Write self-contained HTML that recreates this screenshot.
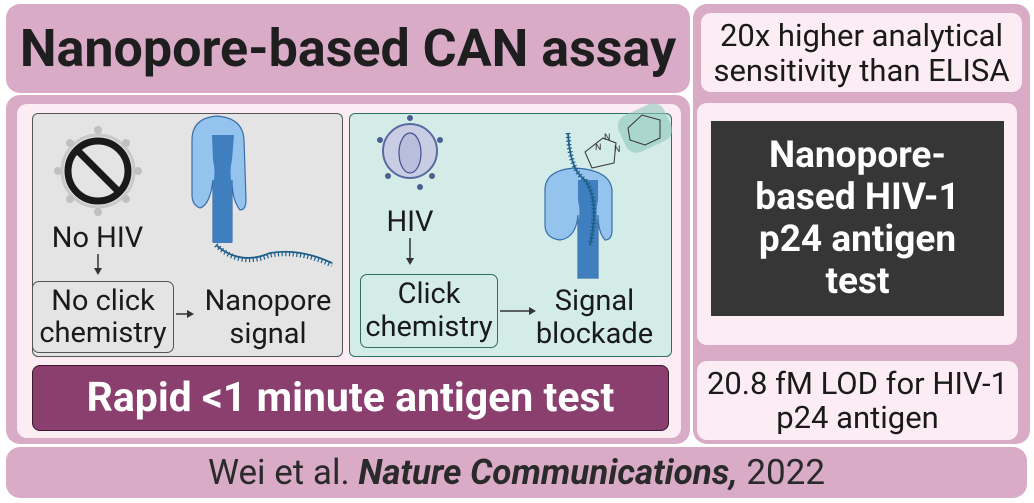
<!DOCTYPE html>
<html><head><meta charset="utf-8"><style>
body{margin:0;width:1034px;height:503px;background:#fff;position:relative;overflow:hidden;font-family:"Roboto","Liberation Sans",sans-serif;}
div{position:absolute;box-sizing:border-box;}
.pk{background:#d9abc7;border-radius:14px;}
.pl{background:#fcedf4;border-radius:10px;}
.c{display:flex;align-items:center;justify-content:center;text-align:center;}
.t{color:#1a1a1a;font-size:29px;line-height:32px;white-space:nowrap;}
</style></head><body>
<div class="pk" style="left:6px;top:4px;width:684px;height:89px;"></div>
<div class="c" style="left:6px;top:4px;width:684px;height:89px;font-weight:bold;font-size:52px;color:#1e1e1e;white-space:nowrap;">Nanopore-based CAN assay</div>
<div class="pk" style="left:693px;top:4px;width:337px;height:440px;"></div>
<div class="pl c t" style="left:701px;top:13px;width:321px;height:79px;font-size:31px;line-height:35px;">20x higher analytical<br>sensitivity than ELISA</div>
<div class="pl" style="left:697px;top:103px;width:320px;height:242px;"></div>
<div class="c" style="left:711px;top:121px;width:293px;height:195px;background:#363636;color:#fff;font-weight:bold;font-size:37px;line-height:42px;">Nanopore-<br>based HIV-1<br>p24 antigen<br>test</div>
<div class="pl c t" style="left:697px;top:361px;width:321px;height:79px;font-size:31px;line-height:34px;">20.8 fM LOD for HIV-1<br>p24 antigen</div>
<div class="pk" style="left:6px;top:95px;width:684px;height:349px;"></div>
<div class="pl" style="left:17px;top:104px;width:664px;height:334px;"></div>
<div style="left:32px;top:113px;width:311px;height:244px;background:#e4e4e4;border:1.5px solid #555;border-radius:6px;"></div>
<div style="left:349px;top:113px;width:323px;height:244px;background:#d4ece8;border:1.5px solid #2f6e62;border-radius:6px;"></div>
<svg style="position:absolute;left:0;top:0" width="1034" height="503">
 <g fill="none" stroke="#c9c9c9" stroke-width="3"><circle cx="98" cy="171" r="36"/></g>
 <g fill="#c0c0c0"><circle cx="98" cy="130" r="4"/><circle cx="98" cy="212" r="4"/><circle cx="58" cy="171" r="4"/><circle cx="138" cy="171" r="4"/><circle cx="70" cy="143" r="4"/><circle cx="126" cy="199" r="4"/><circle cx="126" cy="143" r="4"/><circle cx="70" cy="199" r="4"/></g>
 <circle cx="98" cy="171" r="30" fill="none" stroke="#1a1a1a" stroke-width="7"/>
 <line x1="77" y1="150" x2="119" y2="192" stroke="#1a1a1a" stroke-width="7"/>
 <path d="M192,140 Q192,118 217,116 Q243,118 244,140 L246,200 Q246,210 240,210 Q232,200 232,180 L232,242 L213,242 L213,180 Q210,205 200,208 Q192,205 192,195 Z" fill="#94c4ee" stroke="#3a6ea8" stroke-width="1.2"/>
 <path d="M212,135 L234,135 L232,160 Q229,172 232,185 L232,243 L213,243 L213,185 Q216,172 213,160 Z" fill="#3f7fc0"/>
 <path d="M216,245 Q240,268 270,255 Q300,250 332,265" fill="none" stroke="#1f5f8a" stroke-width="5" stroke-dasharray="1.2 2.5"/>
 <path d="M216,245 Q240,266 270,253 Q300,248 332,263" fill="none" stroke="#1f5f8a" stroke-width="1.8"/>
 <line x1="98" y1="254" x2="98" y2="270" stroke="#333" stroke-width="1.5"/><path d="M94,268 L102,268 L98,275Z" fill="#333"/>
 <line x1="176" y1="314" x2="188" y2="314" stroke="#333" stroke-width="1.5"/><path d="M187,310 L194,314 L187,318Z" fill="#333"/>
 <circle cx="410" cy="151" r="27" fill="#c9cde4" stroke="#5a6aa0" stroke-width="2"/>
 <ellipse cx="410" cy="153" rx="11" ry="20" fill="#b8bedc" stroke="#44508a" stroke-width="1.2"/>
 <g fill="#4a5e92"><circle cx="410" cy="118" r="3"/><circle cx="380" cy="140" r="3"/><circle cx="440" cy="140" r="3"/><circle cx="388" cy="176" r="3"/><circle cx="432" cy="176" r="3"/><circle cx="420" cy="187" r="3"/></g>
 <line x1="410" y1="238" x2="410" y2="260" stroke="#333" stroke-width="1.5"/><path d="M406,258 L414,258 L410,265Z" fill="#333"/>
 <line x1="500" y1="311" x2="530" y2="311" stroke="#333" stroke-width="1.5"/><path d="M529,307 L536,311 L529,315Z" fill="#333"/>
 <path d="M545,190 Q545,170 575,168 Q610,170 612,190 L612,230 Q612,240 605,240 Q598,232 598,215 L598,278 L578,278 L578,215 Q576,238 560,240 Q545,238 545,225 Z" fill="#94c4ee" stroke="#3a6ea8" stroke-width="1.2"/>
 <path d="M578,180 L598,180 L598,200 Q595,212 598,225 L598,278 L578,278 L578,225 Q581,212 578,200 Z" fill="#3f7fc0"/>
 <path d="M568,133 Q570,170 585,180 Q600,200 590,245" fill="none" stroke="#1f5f8a" stroke-width="5" stroke-dasharray="1.2 2.5"/>
 <path d="M568,133 Q570,170 585,180 Q600,200 590,245" fill="none" stroke="#1f5f8a" stroke-width="1.8"/>
 <path d="M585,152 L603,138 L616,143 L614,163 L592,168Z" fill="none" stroke="#333" stroke-width="1"/>
 <text x="595" y="150" font-size="9" fill="#333">N</text><text x="604" y="140" font-size="9" fill="#333">N</text><text x="614" y="152" font-size="9" fill="#333">N</text>
 <rect x="620" y="108" width="50" height="40" rx="12" fill="#8ec8bc" opacity="0.6" transform="rotate(-25 645 128)"/>
 <path d="M628,128 L642,115 L660,120 L660,138 L645,145 L630,140Z" fill="none" stroke="#333" stroke-width="1"/>
</svg>
<div class="t" style="left:40px;top:222px;width:115px;text-align:center;">No HIV</div>
<div class="t c" style="left:32px;top:281px;width:142px;height:72px;border:1.5px solid #555;border-radius:7px;line-height:32px;">No click<br>chemistry</div>
<div class="t" style="left:198px;top:285px;width:140px;text-align:center;line-height:33px;">Nanopore<br>signal</div>
<div class="t" style="left:365px;top:206px;width:90px;text-align:center;">HIV</div>
<div class="t c" style="left:360px;top:274px;width:138px;height:74px;border:1.5px solid #2f6e62;border-radius:7px;line-height:33px;">Click<br>chemistry</div>
<div class="t" style="left:527px;top:285px;width:135px;text-align:center;line-height:33px;">Signal<br>blockade</div>
<div class="c" style="left:32px;top:365px;width:637px;height:66px;background:#8b3f6f;border:1.5px solid #3a1a2e;border-radius:8px;color:#fff;font-weight:bold;font-size:41px;white-space:nowrap;">Rapid &lt;1 minute antigen test</div>
<div class="pk c" style="left:6px;top:447px;width:1021px;height:51px;font-size:35px;color:#2a2a2a;white-space:nowrap;">Wei et al.&nbsp;<b><i>Nature Communications,</i></b>&nbsp;2022</div>
</body></html>
